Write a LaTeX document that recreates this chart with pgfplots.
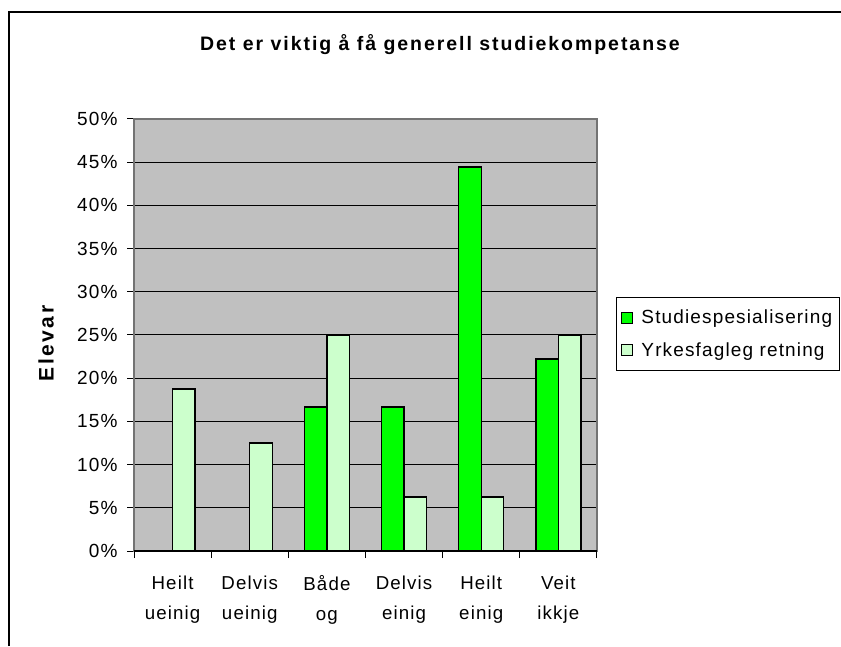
\documentclass[border=0pt]{standalone}
\usepackage{pgfplots}
\pgfplotsset{compat=1.18}
\usepackage{fontspec}
\setmainfont{Liberation Sans}
\newfontfamily\spaced[LetterSpace=6]{Liberation Sans}
\newfontfamily\titlefont[LetterSpace=10]{Liberation Sans}
\newfontfamily\ylabfont[LetterSpace=12]{Liberation Sans}
\definecolor{plotgray}{HTML}{C0C0C0}
\definecolor{studgreen}{HTML}{00FF00}
\definecolor{yrkgreen}{HTML}{CCFFCC}
\begin{document}
\begin{tikzpicture}[x=1pt,y=1pt]
\useasboundingbox (0,0) rectangle (841,646);
\fill[white] (0,0) rectangle (841,646);
\draw[black, line width=1.3pt] (9,0) -- (9,634) -- (845,634);
\node[anchor=base, font={\titlefont\bfseries\fontsize{19.5}{22}\selectfont}] at (440,595.8) {Det er viktig å få generell studiekompetanse};
\node[anchor=base, rotate=90, font={\ylabfont\bfseries\fontsize{21}{24}\selectfont}] at (53.5,302.5) {Elevar};
\begin{axis}[
  at={(134pt,95pt)}, anchor=south west,
  scale only axis, width=463pt, height=432pt,
  xmin=-0.5, xmax=5.5, ymin=0, ymax=50,
  axis background/.style={fill=plotgray},
  axis line style={draw=black!55, line width=1.2pt},
  ybar=0pt, bar width=22.5pt,
  ytick={0,5,...,50},
  yticklabels={0\%,5\%,10\%,15\%,20\%,25\%,30\%,35\%,40\%,45\%,50\%},
  xtick={0,1,2,3,4,5},
  xticklabels={{Heilt\\ueinig},{Delvis\\ueinig},{Både\\og},{Delvis\\einig},{Heilt\\einig},{Veit\\ikkje}},
  minor xtick={-0.5,0.5,1.5,2.5,3.5,4.5,5.5},
  tick align=outside, tick pos=left,
  major tick length=7pt, minor tick length=7pt,
  major x tick style={draw=none},
  minor x tick style={black, line width=1pt},
  ytick style={black, line width=1pt},
  ymajorgrids, grid style={black, line width=1pt},
  yticklabel style={font={\spaced\fontsize{19}{22}\selectfont}, anchor=east, xshift=-6pt},
  xticklabel style={font={\spaced\fontsize{18.7}{30}\selectfont}, align=center, anchor=north, yshift=-14pt},
  legend style={at={(1.041,0.588)}, anchor=north west, draw=black, line width=1pt, fill=white,
    font={\spaced\fontsize{19}{22}\selectfont}, row sep=13.5pt, inner xsep=5pt, inner ysep=10.5pt,
    /tikz/every odd column/.append style={column sep=6pt}},
  legend cell align=left,
  legend image code/.code={\draw[#1, line width=1pt] (0pt,-5.5pt) rectangle (11pt,5.5pt);},
]
\addplot[draw=black, line width=1.3pt, fill=studgreen] coordinates {(2,16.67) (3,16.67) (4,44.44) (5,22.22)};
\addplot[draw=black, line width=1.3pt, fill=yrkgreen] coordinates {(0,18.75) (1,12.5) (2,25) (3,6.25) (4,6.25) (5,25)};
\legend{Studiespesialisering,Yrkesfagleg retning}
\draw[black, line width=1.2pt] (rel axis cs:0,0) -- (rel axis cs:1,0);
\end{axis}
\end{tikzpicture}
\end{document}
